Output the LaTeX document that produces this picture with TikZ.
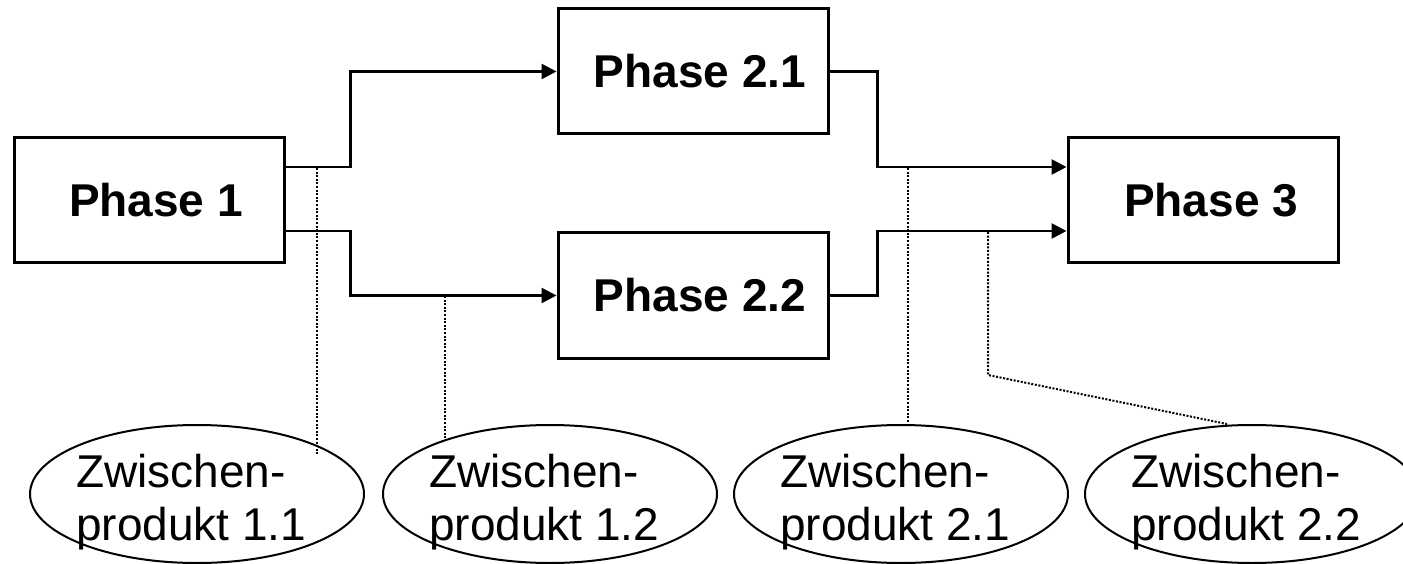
\documentclass[tikz,border=0pt]{standalone}
\usepackage{fontspec}
\setmainfont{Liberation Sans}
\usetikzlibrary{shapes.geometric,arrows.meta}
\begin{document}
\begin{tikzpicture}[x=1pt,y=-1pt,
  phasebox/.style={draw,line width=3pt,inner sep=0pt,minimum width=270pt,minimum height=125pt},
  phasetext/.style={font=\fontsize{46}{53}\selectfont\bfseries,inner sep=0pt},
  conn/.style={line width=2.7pt,-{Triangle[length=15pt,width=15pt]}},
  zp/.style={draw,ellipse,line width=2pt,minimum width=334pt,minimum height=138pt,inner sep=0pt},
  zptext/.style={font=\fontsize{46}{53}\selectfont,align=left,inner sep=0pt,anchor=base west},
  dots/.style={line width=2pt,dash pattern=on 2pt off 1.6pt}]
\useasboundingbox (0,0) rectangle (1403,564);
% phase boxes
\node[phasebox] (p1) at (149,200) {};
\node[phasebox] (p21) at (693,71.5) {};
\node[phasebox] (p22) at (693,295.5) {};
\node[phasebox] (p3) at (1203,200) {};
\node[phasetext] (t1) at (156,200) {Phase 1};
\node[phasetext] (t21) at (700,71) {Phase 2.1};
\node[phasetext] (t22) at (700,295) {Phase 2.2};
\node[phasetext] (t3) at (1211,200) {Phase 3};
% connectors
\coordinate (a1) at ([yshift=33pt]p1.east);
\coordinate (a2) at ([yshift=-31pt]p1.east);
\coordinate (b1) at ([yshift=33pt]p3.west);
\coordinate (b2) at ([yshift=-31pt]p3.west);
\draw[conn] (a1) -- ++(65,0) |- (p21.west);
\draw[conn] (a2) -- ++(65,0) |- (p22.west);
\draw[conn] (p21.east) -- ++(48,0) |- (b1);
\draw[conn] (p22.east) -- ++(48,0) |- (b2);
% ellipses
\node[zp] (e1) at (197,494) {};
\node[zp] (e2) at (550,494) {};
\node[zp] (e3) at (901,494) {};
\node[zp] (e4) at (1252,494) {};
\node[zptext] (z1) at ([xshift=-121pt,yshift=-46pt]e1.center) {Zwischen-\\produkt 1.1};
\node[zptext] (z2) at ([xshift=-121pt,yshift=-46pt]e2.center) {Zwischen-\\produkt 1.2};
\node[zptext] (z3) at ([xshift=-121pt,yshift=-46pt]e3.center) {Zwischen-\\produkt 2.1};
\node[zptext] (z4) at ([xshift=-121pt,yshift=-46pt]e4.center) {Zwischen-\\produkt 2.2};
% dotted links
\coordinate (d1s) at (317,168);
\coordinate (d1e) at (317,455);
\coordinate (d2s) at (445,296);
\coordinate (d2e) at (445,439);
\coordinate (d3s) at (908,168);
\coordinate (d3e) at (908,425);
\coordinate (d4s) at (988,232);
\coordinate (d4m) at (988,375);
\coordinate (d4e) at (1227,424);
\draw[dots] (d1s) -- (d1e);
\draw[dots] (d2s) -- (d2e);
\draw[dots] (d3s) -- (d3e);
\draw[dots] (d4s) -- (d4m) -- (d4e);
\end{tikzpicture}
\end{document}
